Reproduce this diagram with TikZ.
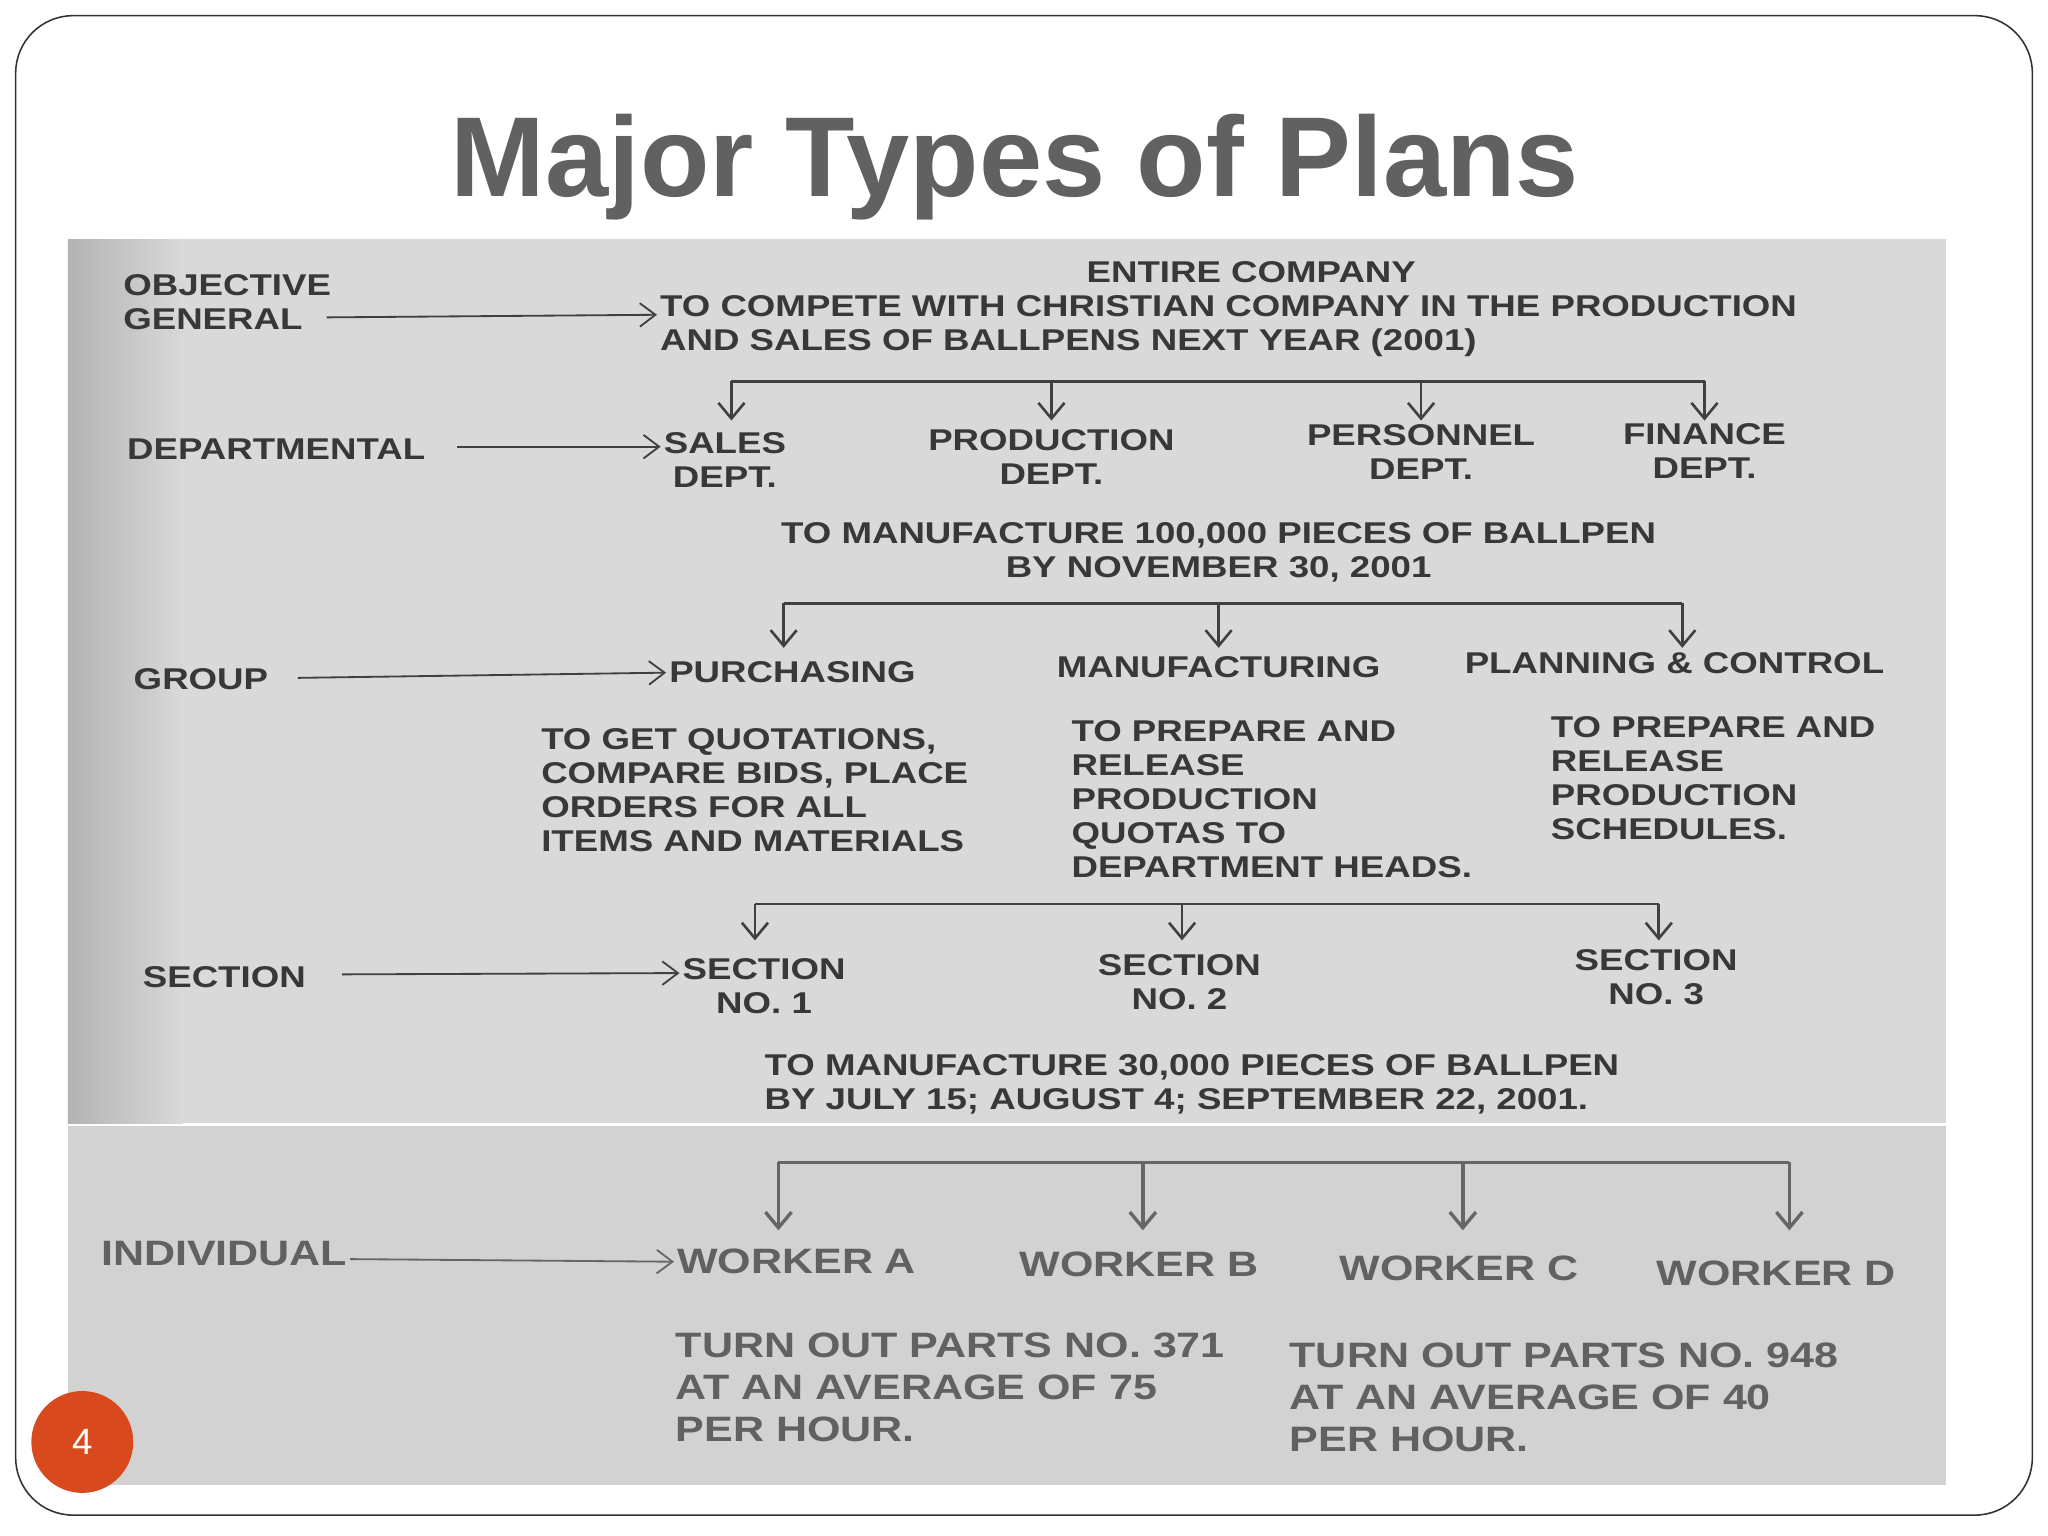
\documentclass[tikz,border=0pt]{standalone}
\usepackage{fontspec}
\setmainfont{Liberation Sans}
\newfontfamily\widefont[FakeStretch=1.22]{Liberation Sans}
\usetikzlibrary{arrows.meta}
\definecolor{pgred}{HTML}{D84A1E}
\begin{document}
\begin{tikzpicture}[x=0.5pt,y=-0.5pt,
  txt/.style={font=\widefont\bfseries\fontsize{11.5}{13}\selectfont,text=black!78,inner sep=1pt},
  big/.style={font=\widefont\bfseries\fontsize{13.5}{16}\selectfont,text=black!62,inner sep=1pt},
  lab/.style={txt,anchor=west},
  arr/.style={draw=black!75,line width=0.7pt,-{Straight Barb[length=6pt,width=9pt]}},
  brk/.style={draw=black!75,line width=1pt},
  down/.style={draw=black!75,line width=1pt,-{Straight Barb[length=6pt,width=10pt]}}]
\useasboundingbox (0,0) rectangle (1568,1176);
\fill[white] (0,0) rectangle (1568,1176);
\draw[black!80,line width=0.6pt,rounded corners=22pt] (12,12) rectangle (1556,1160);
\node[font=\bfseries\fontsize{43.5}{50}\selectfont,text=black!62] (title) at (777,128) {Major Types of Plans};
% photo areas
\fill[gray!30] (52,183) rectangle (1490,860);
\fill[left color=gray!60,right color=gray!30] (52,183) rectangle (140,860);
\fill[gray!35] (52,862) rectangle (1490,1137);
% objective
\node[lab,align=left] (obj) at (92,231) {OBJECTIVE\\GENERAL};
\node[txt] (ent) at (958,208) {ENTIRE COMPANY};
\node[lab,align=left] (comp) at (503,250) {TO COMPETE WITH CHRISTIAN COMPANY IN THE PRODUCTION\\AND SALES OF BALLPENS NEXT YEAR (2001)};
\draw[arr] (250,243) -- (comp.west|-0,241);
% departmental
\coordinate (b1a) at (560,292); \coordinate (b1b) at (1305,292);
\draw[brk] (b1a) -- (b1b);
\node[txt] (dep) at (95,344) [anchor=west] {DEPARTMENTAL};
\node[txt,align=center] (sales) at (555,352) {SALES\\DEPT.};
\node[txt,align=center] (prod) at (805,350) {PRODUCTION\\DEPT.};
\node[txt,align=center] (pers) at (1088,346) {PERSONNEL\\DEPT.};
\node[txt,align=center] (fin) at (1305,345) {FINANCE\\DEPT.};
\draw[arr] (350,342) -- (sales.west|-0,342);
\foreach \x in {560,805,1088,1305}
  \draw[down] (\x,292) -- (\x,322);
\node[txt,align=center] (m1) at (933,423) {TO MANUFACTURE 100,000 PIECES OF BALLPEN\\BY NOVEMBER 30, 2001};
% group
\draw[brk] (600,462) -- (1288,462);
\foreach \x in {600,933,1288} \draw[down] (\x,462) -- (\x,496);
\node[lab] (grp) at (100,520) {GROUP};
\node[lab] (pur) at (510,515) {PURCHASING};
\node[txt] (man) at (933,511) {MANUFACTURING};
\node[txt] (plc) at (1282,508) {PLANNING \& CONTROL};
\draw[arr] (228,519) -- (pur.west);
\node[lab,align=left] (d1) at (412,605) {TO GET QUOTATIONS,\\COMPARE BIDS, PLACE\\ORDERS FOR ALL\\ITEMS AND MATERIALS};
\node[lab,align=left] (d2) at (818,612) {TO PREPARE AND\\RELEASE\\PRODUCTION\\QUOTAS TO\\DEPARTMENT HEADS.};
\node[lab,align=left] (d3) at (1185,596) {TO PREPARE AND\\RELEASE\\PRODUCTION\\SCHEDULES.};
% section
\draw[brk] (578,692) -- (1270,692);
\foreach \x in {578,905,1270} \draw[down] (\x,692) -- (\x,720);
\node[lab] (sec) at (107,748) {SECTION};
\node[txt,align=center] (s1) at (585,755) {SECTION\\NO. 1};
\node[txt,align=center] (s2) at (903,752) {SECTION\\NO. 2};
\node[txt,align=center] (s3) at (1268,748) {SECTION\\NO. 3};
\draw[arr] (262,746) -- (s1.west|-0,745);
\node[lab,align=left] (m2) at (583,830) {TO MANUFACTURE 30,000 PIECES OF BALLPEN\\BY JULY 15; AUGUST 4; SEPTEMBER 22, 2001.};
% individual
\draw[brk,line width=1.2pt,black!60] (596,890) -- (1370,890);
\foreach \x in {596,875,1120,1370} \draw[down,black!60,line width=1.3pt] (\x,890) -- (\x,942);
\node[big,anchor=west] (ind) at (75,960) {INDIVIDUAL};
\node[big,anchor=west] (wa) at (516,966) {WORKER A};
\node[big] (wb) at (872,968) {WORKER B};
\node[big] (wc) at (1117,971) {WORKER C};
\node[big] (wd) at (1360,975) {WORKER D};
\draw[arr,black!60] (268,964) -- (wa.west);
\node[big,anchor=west,align=left] (t1) at (515,1062) {TURN OUT PARTS NO. 371\\AT AN AVERAGE OF 75\\PER HOUR.};
\node[big,anchor=west,align=left] (t2) at (985,1070) {TURN OUT PARTS NO. 948\\AT AN AVERAGE OF 40\\PER HOUR.};
% page number
\node[circle,fill=pgred,minimum size=39pt,inner sep=0pt,text=white,font=\fontsize{14}{16}\selectfont] (pg) at (63,1104) {4};
\end{tikzpicture}
\end{document}
